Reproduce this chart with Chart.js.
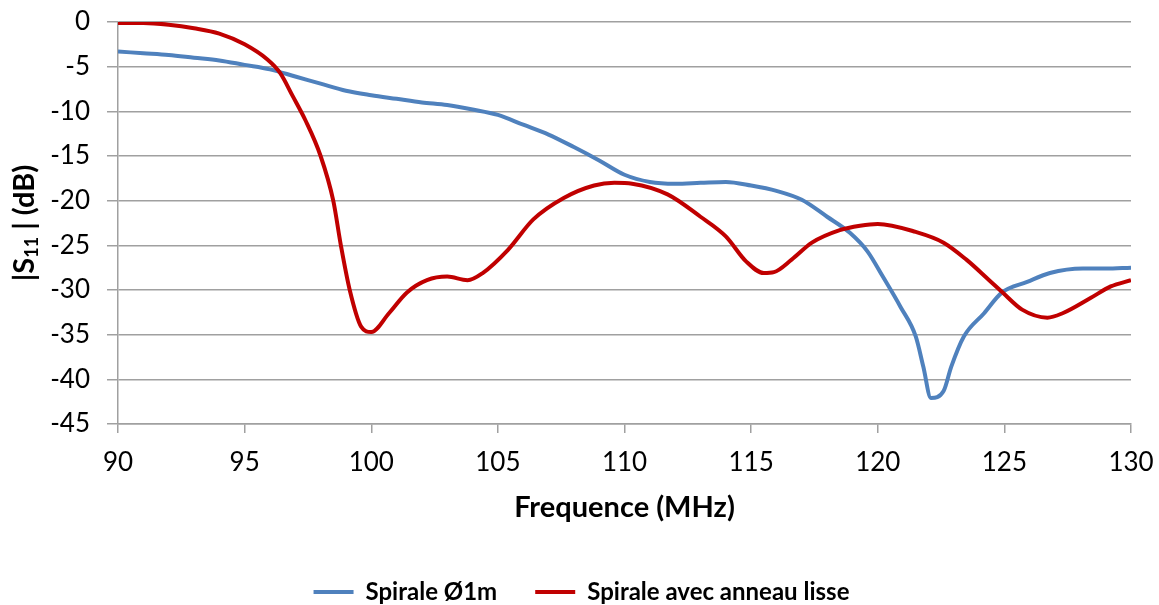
<!DOCTYPE html>
<html>
<head>
<meta charset="utf-8">
<script src="https://cdn.jsdelivr.net/npm/chart.js@4/dist/chart.umd.min.js"></script>
<style>
  html, body { margin: 0; padding: 0; background: #fff; }
  #wrap { width: 1159px; height: 605px; }
</style>
</head>
<body>
<div id="wrap"><canvas id="s11"></canvas></div>
<script>
// Spirale Ø1m
const freqSpirale = [90, 91, 92, 93, 94, 95, 96, 97, 98, 99, 100, 101, 102, 103, 104, 105, 106, 107, 108, 109, 110, 111, 112, 113, 114, 115, 116, 117, 118, 118.9, 119.6, 120.2, 120.9, 121.5, 121.8, 122.1, 122.6, 122.9, 123.4, 124.2, 124.9, 125.9, 126.8, 128.1, 129, 130];
const s11Spirale = [-3.3, -3.5, -3.7, -4.0, -4.3, -4.8, -5.3, -6.1, -6.9, -7.7, -8.2, -8.6, -9.0, -9.3, -9.8, -10.4, -11.5, -12.6, -14.0, -15.5, -17.1, -17.9, -18.1, -18.0, -17.9, -18.3, -18.9, -19.9, -21.8, -23.6, -25.7, -28.5, -31.9, -35.2, -38.6, -42.1, -41.3, -38.6, -35.2, -32.6, -30.3, -29.1, -28.1, -27.6, -27.6, -27.5];

// Spirale avec anneau lisse
const freqAnneau = [90, 91, 92, 93, 94, 95, 95.9, 96.4, 96.9, 97.4, 98.0, 98.5, 98.8, 99.15, 99.6, 100, 100.7, 101.4, 102.2, 103, 103.8, 104.4, 105.4, 106.4, 107.6, 108.8, 109.6, 110.3, 111.7, 113, 114, 114.8, 115.5, 115.9, 116.6, 117.4, 118.5, 119.3, 120, 121.5, 122.6, 123.5, 124.4, 124.9, 125.7, 126.7, 127.3, 128.4, 129.2, 130];
const s11Anneau = [-0.1, -0.1, -0.3, -0.7, -1.3, -2.5, -4.2, -5.7, -8.3, -11.0, -15.0, -20.0, -25.0, -30.0, -34.1, -34.7, -32.6, -30.3, -28.9, -28.5, -28.9, -28.1, -25.5, -22.1, -19.7, -18.3, -18.0, -18.1, -19.3, -21.8, -24.0, -26.8, -28.1, -28.0, -26.6, -24.7, -23.3, -22.8, -22.6, -23.5, -24.7, -26.6, -28.9, -30.2, -32.2, -33.1, -32.6, -30.9, -29.6, -28.9];

const seriesNames = ['Spirale Ø1m', 'Spirale avec anneau lisse'];
const xTicks = { min: 90, max: 130, step: 5 };
const yTicks = { min: -45, max: 0, step: 5 };

const FONT = 'Lato, "Open Sans", sans-serif';
const gridGray = '#a0a0a0';

function toPoints(xs, ys) {
  return xs.map((x, i) => ({ x: x, y: ys[i] }));
}

// |S11| with a real subscript, drawn vertically left of the axis
const yTitle = {
  id: 'yTitle',
  afterDraw(chart) {
    const { ctx, chartArea } = chart;
    const cy = (chartArea.top + chartArea.bottom) / 2;
    const big = 'bold 29px ' + FONT;
    const small = 'bold 18px ' + FONT;
    ctx.save();
    ctx.translate(25, cy);
    ctx.rotate(-Math.PI / 2);
    ctx.textBaseline = 'middle';
    ctx.fillStyle = '#000';
    ctx.font = big;
    const w1 = ctx.measureText('|S').width;
    const w3 = ctx.measureText(' | (dB)').width;
    ctx.font = small;
    const w2 = ctx.measureText('11').width;
    let x = -(w1 + w2 + w3) / 2;
    ctx.font = big;
    ctx.fillText('|S', x, 0);
    x += w1;
    ctx.font = small;
    ctx.fillText('11', x, 7);
    x += w2;
    ctx.font = big;
    ctx.fillText(' | (dB)', x, 0);
    ctx.restore();
  }
};

// legend row carries a trailing padding, nudge it back to the middle
const legendNudge = {
  id: 'legendNudge',
  afterLayout(chart) {
    chart.legend.left += 16;
    chart.legend.right += 16;
  }
};

new Chart(document.getElementById('s11'), {
  type: 'line',
  data: {
    datasets: [{
      label: seriesNames[0],
      data: toPoints(freqSpirale, s11Spirale),
      borderColor: '#4f81bd',
      backgroundColor: '#4f81bd',
      borderWidth: 4,
      pointRadius: 0,
      cubicInterpolationMode: 'monotone',
      order: 1
    }, {
      label: seriesNames[1],
      data: toPoints(freqAnneau, s11Anneau),
      borderColor: '#c00000',
      backgroundColor: '#c00000',
      borderWidth: 4,
      pointRadius: 0,
      cubicInterpolationMode: 'monotone',
      order: 0
    }]
  },
  options: {
    responsive: true,
    maintainAspectRatio: false,
    animation: false,
    layout: { padding: { top: 22, right: 28, bottom: -9, left: 0 } },
    scales: {
      x: {
        type: 'linear',
        min: xTicks.min,
        max: xTicks.max,
        ticks: {
          stepSize: xTicks.step,
          color: '#000',
          padding: 14,
          font: { family: FONT, size: 26 }
        },
        grid: { drawOnChartArea: false, color: gridGray, lineWidth: 1.5, tickLength: 9 },
        border: { color: gridGray, width: 1.5 },
        title: {
          display: true,
          text: 'Frequence (MHz)',
          color: '#000',
          font: { family: FONT, size: 29, weight: 'bold' },
          padding: { top: 0, bottom: 17 }
        },
        afterFit(scale) {
          scale.height = 118;
          scale.paddingLeft = 0;
          scale.paddingRight = 0;
        }
      },
      y: {
        min: yTicks.min,
        max: yTicks.max,
        ticks: {
          stepSize: yTicks.step,
          color: '#000',
          padding: 17,
          font: { family: FONT, size: 26 }
        },
        grid: { color: gridGray, lineWidth: 1.5, tickLength: 11 },
        border: { color: gridGray, width: 1.5 },
        afterFit(scale) {
          scale.width = 118;
          scale.paddingTop = 0;
          scale.paddingBottom = 0;
        }
      }
    },
    plugins: {
      tooltip: { enabled: false },
      legend: {
        position: 'bottom',
        labels: {
          boxWidth: 40,
          boxHeight: 4,
          padding: 38,
          color: '#000',
          font: { family: FONT, size: 24, weight: 'bold' },
          generateLabels(chart) {
            const items = Chart.defaults.plugins.legend.labels.generateLabels(chart);
            items.forEach(it => { it.lineWidth = 0; });
            return items.sort((a, b) => a.datasetIndex - b.datasetIndex);
          }
        }
      }
    }
  },
  plugins: [yTitle, legendNudge]
});
</script>
</body>
</html>
